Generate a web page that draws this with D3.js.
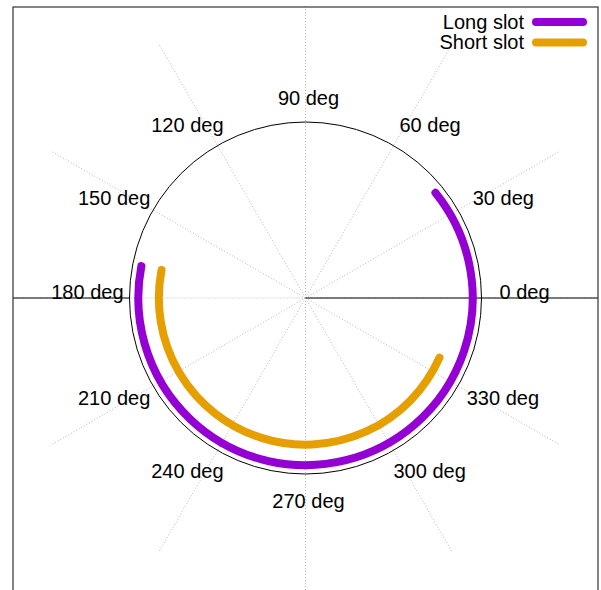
<!DOCTYPE html>
<html>
<head>
<meta charset="utf-8">
<script src="https://cdn.jsdelivr.net/npm/d3@7"></script>
<style>
body { margin: 0; background: #fff; }
text { font-family: "Liberation Sans", Arial, sans-serif; font-size: 20px; fill: #000; }
</style>
</head>
<body>
<div id="chart"></div>
<script>
// series
const seriesNames = ["Long slot", "Short slot"]
const seriesColors = ["#9400d3", "#e69f00"]
const slotRadius = [1.14, 1.0]
const slotStart = [-191, 169]   // degrees, counter-clockwise from 0
const slotEnd = [39, 336]

// polar ticks
const tickAngles = [0, 30, 60, 90, 120, 150, 180, 210, 240, 270, 300, 330]
const tickLabels = ["0 deg", "30 deg", "60 deg", "90 deg", "120 deg", "150 deg",
  "180 deg", "210 deg", "240 deg", "270 deg", "300 deg", "330 deg"]
const rMax = 1.2
const gridMax = 2.0

const width = 601
const height = 590
const box = { left: 13, right: 598, top: 7, bottom: 591 }
const cx = (box.left + box.right) / 2
const cy = 298

let svg = d3.select("#chart")
  .append("svg")
  .attr("width", width)
  .attr("height", height)

let r = d3.scaleLinear().domain([0, rMax]).range([0, 176])
const rad = d => d * Math.PI / 180

let g = svg.append("g")
  .attr("transform", "translate(" + cx + "," + cy + ")")

// dotted radial grid
g.append("g")
  .selectAll("line")
  .data(tickAngles)
  .join("line")
  .attr("x1", 0).attr("y1", 0)
  .attr("x2", d => r(gridMax) * Math.cos(rad(d)))
  .attr("y2", d => -r(gridMax) * Math.sin(rad(d)))
  .attr("stroke", "#b8b8b8")
  .attr("stroke-width", 1)
  .attr("stroke-dasharray", "1,2")

// r axis / zero line
g.append("line")
  .attr("x1", box.left - cx).attr("x2", -r(rMax))
  .attr("y1", 0).attr("y2", 0)
  .attr("stroke", "#000")
g.append("line")
  .attr("x1", 0).attr("x2", box.right - cx)
  .attr("y1", 0).attr("y2", 0)
  .attr("stroke", "#000")

// outer polar border
g.append("circle")
  .attr("r", r(rMax))
  .attr("fill", "none")
  .attr("stroke", "#000")
  .attr("stroke-width", 1)

// tick labels
const labelR = 200
let labels = g.append("g")
  .selectAll("text")
  .data(tickAngles)
  .join("text")
  .attr("y", d => {
    let s = Math.sin(rad(d))
    let y = -labelR * s
    if (Math.abs(s) < 0.01) y -= 6
    if (s < -0.99) y += 3
    return y + 7
  })
  .attr("text-anchor", d => {
    let c = Math.cos(rad(d))
    return c > 0.01 ? "start" : (c < -0.01 ? "end" : "middle")
  })
  .text((d, i) => tickLabels[i])

labels.attr("x", function (d) {
  let c = Math.cos(rad(d))
  let x = labelR * c
  if (c > 0.01) {
    // wider labels on the right sit a little further in
    let w = this.getComputedTextLength()
    return x - 6 - (w > 65 ? 6 : 0)
  }
  if (c < -0.01) return x + 18
  return x + 3
})

// slots
seriesNames.forEach((name, i) => {
  let p = d3.path()
  p.arc(0, 0, r(slotRadius[i]), -rad(slotStart[i]), -rad(slotEnd[i]), true)
  g.append("path")
    .attr("d", p.toString())
    .attr("fill", "none")
    .attr("stroke", seriesColors[i])
    .attr("stroke-width", 8)
    .attr("stroke-linecap", "round")
})

// legend
let legend = svg.append("g")
seriesNames.forEach((name, i) => {
  let row = legend.append("g")
    .attr("transform", "translate(0," + (22 + i * 20.5) + ")")
  row.append("text")
    .attr("x", 524)
    .attr("y", 6.5)
    .attr("text-anchor", "end")
    .text(name)
  row.append("line")
    .attr("x1", 536).attr("x2", 583)
    .attr("y1", 0).attr("y2", 0)
    .attr("stroke", seriesColors[i])
    .attr("stroke-width", 8)
    .attr("stroke-linecap", "round")
})

// plot border
svg.append("rect")
  .attr("x", box.left).attr("y", box.top)
  .attr("width", box.right - box.left)
  .attr("height", box.bottom - box.top)
  .attr("fill", "none")
  .attr("stroke", "#333")
  .attr("stroke-width", 1.2)
</script>
</body>
</html>
